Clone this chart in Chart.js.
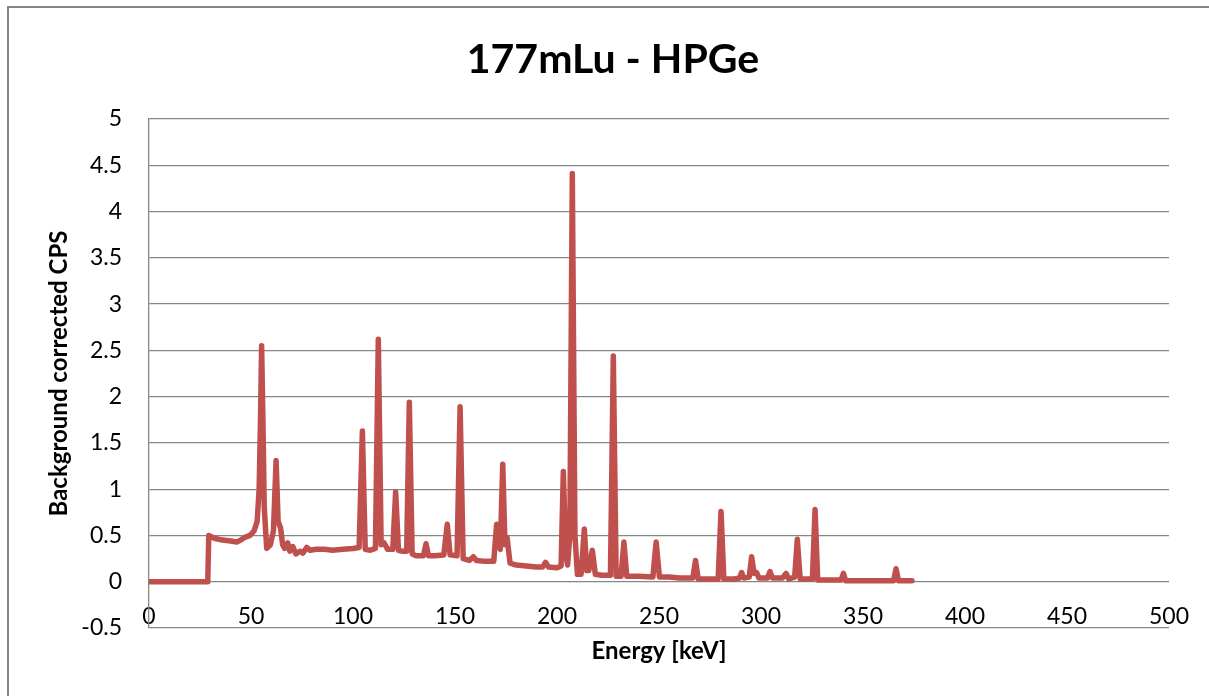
<!DOCTYPE html>
<html>
<head>
<meta charset="utf-8">
<script src="https://cdn.jsdelivr.net/npm/chart.js@4"></script>
<style>
  html, body { margin: 0; padding: 0; background: #fff; }
  canvas { display: block; }
</style>
</head>
<body>
<canvas id="spectrum" width="1209" height="696"></canvas>
<script>
// spectrum (keV, background corrected CPS)
const energy = [
  0, 28.8, 29.3, 32, 36, 40, 43, 45, 47, 49.5, 51.5, 53, 54, 54.7, 55.2, 55.8, 56.5, 57.7,
  59.5, 61, 62.3, 63.3, 64.5, 65.5, 66.5, 68, 69, 70.5, 72, 74, 75.5, 77.3, 79, 82, 86, 90,
  95, 100, 103, 104.6, 106, 108.5, 111, 112.4, 113.8, 115.2, 117, 119.5, 120.9, 122.3, 124,
  126.3, 127.6, 129, 131, 134.5, 135.8, 137, 140, 144.5, 146.2, 147.6, 151, 152.5, 154, 157,
  159, 160.5, 165, 169, 170.4, 171.3, 172.2, 173.4, 174.5, 175.5, 177, 180, 185, 190, 193,
  194.4, 195.8, 200, 202, 203.1, 204.3, 205.2, 206.3, 207.5, 208.8, 210, 211.8, 213.4, 214.6,
  215.6, 217.3, 218.8, 222, 226.2, 227.6, 229, 231.4, 232.8, 234.2, 240, 247, 248.6, 250.2,
  255, 260, 266.6, 267.9, 269.2, 275, 279, 280.4, 281.8, 287, 289.5, 290.5, 291.6, 294.2,
  295.4, 296.6, 297.8, 299, 303.2, 304.4, 305.6, 310.5, 312.3, 313.6, 316.5, 317.8, 319.2,
  325.2, 326.5, 327.8, 335, 339.3, 340.4, 341.5, 350, 360, 365, 366.2, 367.4, 374
];
const cps = [
  0, 0, 0.50, 0.47, 0.45, 0.44, 0.43, 0.45, 0.48, 0.50, 0.55, 0.65, 1.0, 1.8, 2.55, 1.8, 0.8, 0.36,
  0.40, 0.55, 1.31, 0.65, 0.58, 0.40, 0.36, 0.42, 0.33, 0.38, 0.30, 0.33, 0.31, 0.37, 0.34, 0.35, 0.35, 0.34,
  0.35, 0.36, 0.37, 1.63, 0.35, 0.34, 0.36, 2.62, 0.40, 0.42, 0.35, 0.35, 0.97, 0.34, 0.33,
  0.33, 1.94, 0.30, 0.28, 0.28, 0.41, 0.28, 0.28, 0.29, 0.62, 0.29, 0.28, 1.89, 0.25, 0.23,
  0.27, 0.23, 0.22, 0.22, 0.62, 0.40, 0.35, 1.27, 0.40, 0.48, 0.20, 0.18, 0.17, 0.16, 0.16,
  0.21, 0.16, 0.15, 0.17, 1.19, 0.30, 0.18, 0.5, 4.41, 0.5, 0.08, 0.08, 0.57, 0.12,
  0.12, 0.34, 0.08, 0.07, 0.07, 2.44, 0.06, 0.06, 0.43, 0.06, 0.06, 0.05, 0.43, 0.05,
  0.05, 0.04, 0.04, 0.23, 0.03, 0.03, 0.03, 0.76, 0.03, 0.03, 0.04, 0.10, 0.04, 0.05,
  0.27, 0.09, 0.10, 0.04, 0.04, 0.11, 0.04, 0.04, 0.09, 0.03, 0.05, 0.46, 0.03,
  0.03, 0.78, 0.02, 0.02, 0.02, 0.09, 0.01, 0.01, 0.01, 0.01, 0.14, 0.01, 0.01
];
const xTicks = [0, 50, 100, 150, 200, 250, 300, 350, 400, 450, 500];
const yTicks = [-0.5, 0, 0.5, 1, 1.5, 2, 2.5, 3, 3.5, 4, 4.5, 5];

const gridGray = '#868686';

// white page + the outer chart frame (left and top edges are visible)
const frame = {
  id: 'frame',
  beforeDraw(chart) {
    const ctx = chart.ctx;
    ctx.save();
    ctx.fillStyle = '#fff';
    ctx.fillRect(0, 0, chart.width, chart.height);
    ctx.strokeStyle = gridGray;
    ctx.lineWidth = 2;
    ctx.strokeRect(8, 7, chart.width + 20, chart.height + 20);
    ctx.restore();
  }
};

Chart.defaults.font.family = 'Lato';
Chart.defaults.color = '#000';

new Chart(document.getElementById('spectrum'), {
  type: 'line',
  data: {
    datasets: [{
      label: '177mLu',
      data: energy.map((e, i) => ({ x: e, y: cps[i] })),
      borderColor: '#C0504D',
      borderWidth: 5.5,
      borderJoinStyle: 'round',
      borderCapStyle: 'round',
      pointRadius: 0,
      tension: 0,
      fill: false
    }]
  },
  options: {
    responsive: false,
    animation: false,
    // left padding shifts the centred title to where the original has it
    layout: { padding: { left: 57, right: 40, top: 0, bottom: 30 } },
    plugins: {
      legend: { display: false },
      tooltip: { enabled: false },
      title: {
        display: true,
        text: '177mLu - HPGe',
        font: { size: 41, weight: 'bold' },
        padding: { top: 35, bottom: 34.8 }
      }
    },
    scales: {
      x: {
        type: 'linear',
        min: 0,
        max: 500,
        afterBuildTicks: s => { s.ticks = xTicks.map(v => ({ value: v })); },
        afterFit: s => { s.height = 38; },
        grid: { display: false, drawTicks: false },
        border: { display: false },
        // labels sit just above the -0.5 line, like the original
        ticks: { font: { size: 23 }, mirror: true, padding: -2, maxRotation: 0, autoSkip: false,
                 callback: v => String(v) },
        title: {
          display: true,
          text: 'Energy [keV]',
          font: { size: 24, weight: 'bold' },
          padding: 0
        }
      },
      y: {
        min: -0.5,
        max: 5,
        afterBuildTicks: s => { s.ticks = yTicks.map(v => ({ value: v })); },
        afterFit: s => { s.width = 92; },
        grid: { color: gridGray, lineWidth: 1.3, drawTicks: false },
        border: { display: true, color: gridGray, width: 1.3 },
        ticks: { font: { size: 23 }, padding: 27, callback: v => String(v) },
        title: {
          display: true,
          text: 'Background corrected CPS',
          font: { size: 24, weight: 'bold' },
          padding: { top: -12.4, bottom: 0 }
        }
      }
    }
  },
  plugins: [frame]
});
</script>
</body>
</html>
